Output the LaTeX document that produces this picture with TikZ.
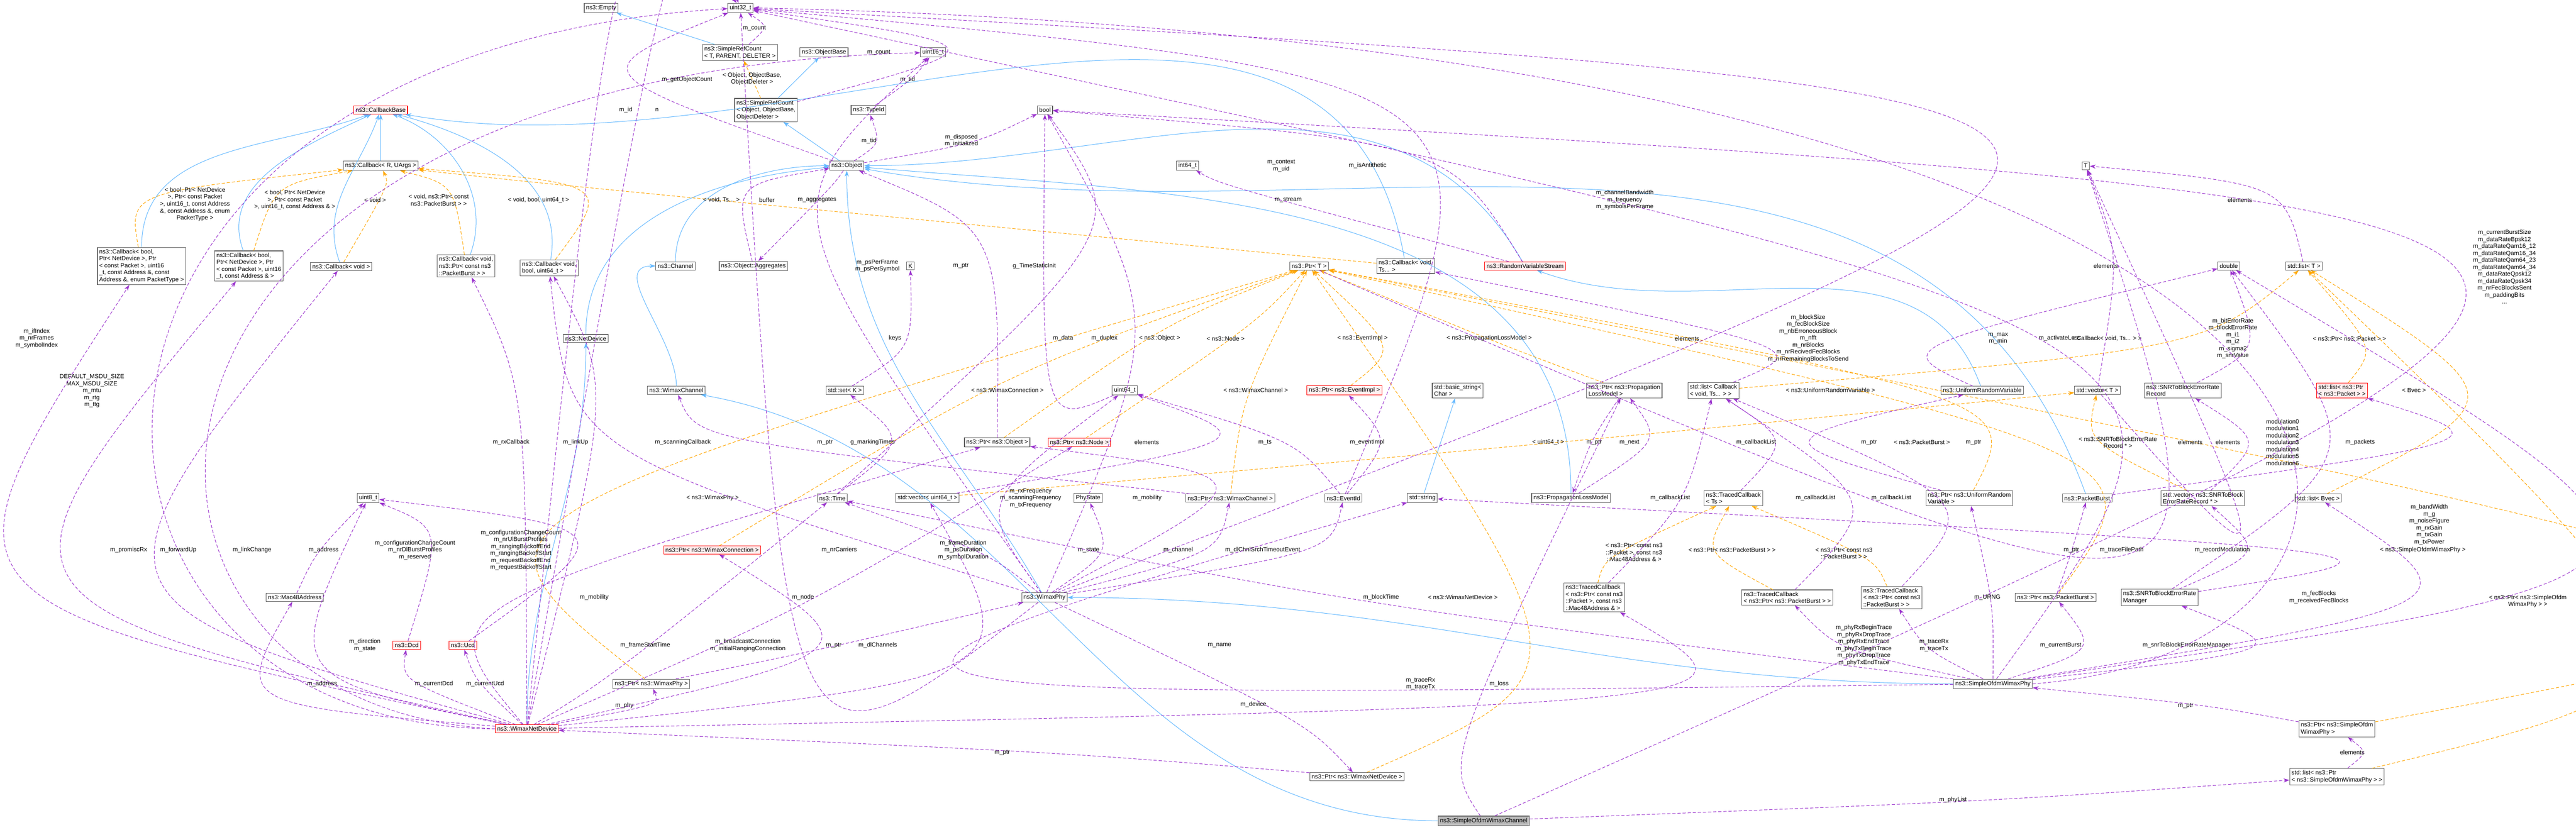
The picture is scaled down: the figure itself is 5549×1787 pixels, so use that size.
\documentclass[tikz,border=0pt]{standalone}
\usepackage{fontspec}
\setmainfont{Liberation Sans}
\usetikzlibrary{arrows.meta,calc}
\definecolor{mcol}{HTML}{9A32CD}
\definecolor{icol}{HTML}{63B8FF}
\definecolor{tcol}{HTML}{FFA500}
\newcommand\ME[5]{\draw[#1] (#2) .. controls ($2*(#4)-0.5*(#2)-0.5*(#3)$) .. (#3); \node[lbl] at (#4) {#5};}
\newcommand\SE[3]{\draw[#1] (#2) -- (#3);}
\begin{document}
\begin{tikzpicture}[x=0.25pt,y=-0.25pt,
 box/.style={draw=gray!75!black,fill=white,line width=0.3pt,inner sep=1pt,font=\fontsize{3.25}{3.75}\selectfont,align=left},
 rbox/.style={box,draw=red,fill=red!6},
 gbox/.style={box,fill=gray!55},
 lbl/.style={font=\fontsize{3.25}{3.75}\selectfont,align=center,inner sep=0.25pt},
 mem/.style={draw=mcol,dash pattern=on 1.75pt off 1pt,line width=0.28pt,-{Stealth[length=3.2pt,width=2.2pt]}},
 inh/.style={draw=icol,line width=0.28pt,-{Stealth[length=3.2pt,width=2.2pt]}},
 tpl/.style={draw=tcol,dash pattern=on 1.75pt off 1pt,line width=0.28pt,-{Stealth[length=3.2pt,width=2.2pt]}}]
\useasboundingbox (0,0) rectangle (5549,1787);
% nodes
\node[box] (empty) at (1295,17) {ns3::Empty};
\node[box] (u32) at (1595,17) {uint32\_t};
\node[box] (srcT) at (1594,113) {ns3::SimpleRefCount\\< T, PARENT, DELETER >};
\node[box] (objbase) at (1775,113) {ns3::ObjectBase};
\node[box] (u16) at (2010,113) {uint16\_t};
\node[box] (srcO) at (1650,237) {ns3::SimpleRefCount\\< Object, ObjectBase,\\ObjectDeleter >};
\node[box] (typeid) at (1871,237) {ns3::TypeId};
\node[box] (bool) at (2251,237) {bool};
\node[rbox] (cbbase) at (820,237) {ns3::CallbackBase};
\node[box] (cbR) at (820,357) {ns3::Callback< R, UArgs >};
\node[box] (object) at (1824,357) {ns3::Object};
\node[box] (i64) at (2558,357) {int64\_t};
\node[box] (T) at (4493,357) {T};
\node[box] (cb1) at (305,573) {ns3::Callback< bool,\\ Ptr< NetDevice >, Ptr\\< const Packet >, uint16\\\_t, const Address \&, const\\ Address \&, enum PacketType >};
\node[box] (cb2) at (536,573) {ns3::Callback< bool,\\ Ptr< NetDevice >, Ptr\\< const Packet >, uint16\\\_t, const Address \& >};
\node[box] (cb3) at (735,574) {ns3::Callback< void >};
\node[box] (cb4) at (1004,573) {ns3::Callback< void,\\ ns3::Ptr< const ns3\\::PacketBurst > >};
\node[box] (cb5) at (1183,577) {ns3::Callback< void,\\ bool, uint64\_t >};
\node[box] (channel) at (1455,573) {ns3::Channel};
\node[box] (aggr) at (1623,573) {ns3::Object::Aggregates};
\node[box] (K) at (1961,573) {K};
\node[box] (ptrT) at (2820,573) {ns3::Ptr< T >};
\node[box] (cbts) at (3028,573) {ns3::Callback< void,\\ Ts... >};
\node[rbox] (rvs) at (3285,573) {ns3::RandomVariableStream};
\node[box] (double) at (4801,573) {double};
\node[box] (listT) at (4963,573) {std::list< T >};
\node[box] (netdev) at (1262,729) {ns3::NetDevice};
\node[box] (wchan) at (1457,841) {ns3::WimaxChannel};
\node[box] (setK) at (1820,841) {std::set< K >};
\node[box] (u64) at (2423,841) {uint64\_t};
\node[rbox] (ptrEv) at (2896,841) {ns3::Ptr< ns3::EventImpl >};
\node[box] (bstr) at (3140,841) {std::basic\_string<\\ Char >};
\node[box] (ptrPLM) at (3499,841) {ns3::Ptr< ns3::Propagation\\ LossModel >};
\node[box] (listCb) at (3691,841) {std::list< Callback\\< void, Ts... > >};
\node[box] (urv) at (4270,841) {ns3::UniformRandomVariable};
\node[box] (vecT) at (4518,841) {std::vector< T >};
\node[box] (snrrec) at (4702,841) {ns3::SNRToBlockErrorRate\\Record};
\node[rbox] (listPkt) at (5045,841) {std::list< ns3::Ptr\\< ns3::Packet > >};
\node[box] (ptrObj) at (2148,953) {ns3::Ptr< ns3::Object >};
\node[rbox] (ptrNode) at (2325,953) {ns3::Ptr< ns3::Node >};
\node[box] (u8) at (793,1073) {uint8\_t};
\node[box] (time) at (1793,1073) {ns3::Time};
\node[box] (vecU64) at (1998,1073) {std::vector< uint64\_t >};
\node[box] (phystate) at (2344,1073) {PhyState};
\node[box] (ptrWCh) at (2650,1073) {ns3::Ptr< ns3::WimaxChannel >};
\node[box] (evid) at (2894,1073) {ns3::EventId};
\node[box] (str) at (3064,1073) {std::string};
\node[box] (plm) at (3384,1073) {ns3::PropagationLossModel};
\node[box] (tcTs) at (3734,1073) {ns3::TracedCallback\\< Ts >};
\node[box] (ptrURV) at (4242,1073) {ns3::Ptr< ns3::UniformRandom\\Variable >};
\node[box] (pburst) at (4496,1073) {ns3::PacketBurst};
\node[box] (vecSnr) at (4745,1073) {std::vector< ns3::SNRToBlock\\ErrorRateRecord * >};
\node[box] (listBvec) at (4994,1073) {std::list< Bvec >};
\node[rbox] (ptrWConn) at (1534,1185) {ns3::Ptr< ns3::WimaxConnection >};
\node[box] (mac) at (635,1287) {ns3::Mac48Address};
\node[box] (wphy) at (2250,1287) {ns3::WimaxPhy};
\node[box] (tcMac) at (3434,1287) {ns3::TracedCallback\\< ns3::Ptr< const ns3\\::Packet >, const ns3\\::Mac48Address \& >};
\node[box] (tcPB) at (3850,1287) {ns3::TracedCallback\\< ns3::Ptr< ns3::PacketBurst > >};
\node[box] (tcCPB) at (4075,1287) {ns3::TracedCallback\\< ns3::Ptr< const ns3\\::PacketBurst > >};
\node[box] (ptrPB) at (4428,1287) {ns3::Ptr< ns3::PacketBurst >};
\node[box] (snrman) at (4652,1287) {ns3::SNRToBlockErrorRate\\Manager};
\node[rbox] (dcd) at (876,1390) {ns3::Dcd};
\node[rbox] (ucd) at (997,1390) {ns3::Ucd};
\node[box] (ptrWPhy) at (1403,1473) {ns3::Ptr< ns3::WimaxPhy >};
\node[box] (sowp) at (4293,1473) {ns3::SimpleOfdmWimaxPhy};
\node[rbox] (wnd) at (1135,1570) {ns3::WimaxNetDevice};
\node[box] (ptrSOWP) at (5034,1570) {ns3::Ptr< ns3::SimpleOfdm\\WimaxPhy >};
\node[box] (ptrWND) at (2923,1673) {ns3::Ptr< ns3::WimaxNetDevice >};
\node[box] (listSOWP) at (5034,1673) {std::list< ns3::Ptr\\< ns3::SimpleOfdmWimaxPhy > >};
\node[gbox] (sowc) at (3196,1768) {ns3::SimpleOfdmWimaxChannel};
% inheritance
\SE{inh}{srcT}{empty}
\SE{inh}{srcO}{objbase}
\SE{inh}{object}{srcO}
\SE{inh}{cbR}{cbbase}
\draw[inh] (cb1) to[out=90,in=200] (cbbase);
\draw[inh] (cb2) to[out=110,in=205] (cbbase);
\draw[inh] (cb3) to[out=110,in=250] (cbbase);
\draw[inh] (cb4) to[out=70,in=-20] (cbbase);
\draw[inh] (cb5) to[out=80,in=-15] (cbbase);
\draw[inh] (cbts) to[out=100,in=-10] (cbbase);
\draw[inh] (channel) to[out=90,in=180] (object);
\draw[inh] (netdev) to[out=90,in=185] (object);
\draw[inh] (wchan) to[out=90,in=180] (channel);
\draw[inh] (wnd) to[out=90,in=270] (netdev);
\draw[inh] (wphy) to[out=120,in=270] (object);
\draw[inh] (plm) to[out=90,in=-5] (object);
\draw[inh] (rvs) to[out=120,in=0] (object);
\draw[inh] (pburst) to[out=110,in=-10] (object);
\draw[inh] (urv) to[out=110,in=-20] (rvs);
\draw[inh] (sowc) to[out=180,in=-10] (wchan);
\draw[inh] (sowp) to[out=180,in=0] (wphy);
\SE{inh}{str}{bstr}
% templates
\ME{tpl}{srcO}{srcT}{1620,170}{< Object, ObjectBase,\\ObjectDeleter >}
\ME{tpl}{cb1}{cbR}{420,440}{< bool, Ptr< NetDevice\\>, Ptr< const Packet\\>, uint16\_t, const Address\\\&, const Address \&, enum\\PacketType >}
\ME{tpl}{cb2}{cbR}{635,431}{< bool, Ptr< NetDevice\\>, Ptr< const Packet\\>, uint16\_t, const Address \& >}
\ME{tpl}{cb3}{cbR}{808,431}{< void >}
\ME{tpl}{cb4}{cbR}{945,431}{< void, ns3::Ptr< const\\ns3::PacketBurst > >}
\ME{tpl}{cb5}{cbR}{1160,431}{< void, bool, uint64\_t >}
\ME{tpl}{cbts}{cbR}{1554,431}{< void, Ts... >}
\ME{tpl}{ptrObj}{ptrT}{2498,729}{< ns3::Object >}
\ME{tpl}{ptrNode}{ptrT}{2640,729}{< ns3::Node >}
\ME{tpl}{ptrWConn}{ptrT}{2170,841}{< ns3::WimaxConnection >}
\ME{tpl}{ptrWPhy}{ptrT}{1535,1073}{< ns3::WimaxPhy >}
\ME{tpl}{ptrWCh}{ptrT}{2705,841}{< ns3::WimaxChannel >}
\ME{tpl}{ptrEv}{ptrT}{2935,729}{< ns3::EventImpl >}
\ME{tpl}{ptrPLM}{ptrT}{3208,729}{< ns3::PropagationLossModel >}
\ME{tpl}{ptrURV}{ptrT}{3943,841}{< ns3::UniformRandomVariable >}
\ME{tpl}{ptrPB}{ptrT}{4140,953}{< ns3::PacketBurst >}
\ME{tpl}{ptrSOWP}{ptrT}{5219,1185}{< ns3::SimpleOfdmWimaxPhy >}
\ME{tpl}{ptrWND}{ptrT}{3151,1287}{< ns3::WimaxNetDevice >}
\ME{tpl}{vecU64}{vecT}{3335,953}{< uint64\_t >}
\ME{tpl}{vecSnr}{vecT}{4562,953}{< ns3::SNRToBlockErrorRate\\Record * >}
\ME{tpl}{listCb}{listT}{4538,729}{< Callback< void, Ts... > >}
\ME{tpl}{listPkt}{listT}{5061,729}{< ns3::Ptr< ns3::Packet > >}
\ME{tpl}{listBvec}{listT}{5200,841}{< Bvec >}
\ME{tpl}{listSOWP}{listT}{5445,1295}{< ns3::Ptr< ns3::SimpleOfdm\\WimaxPhy > >}
\ME{tpl}{tcMac}{tcTs}{3520,1190}{< ns3::Ptr< const ns3\\::Packet >, const ns3\\::Mac48Address \& >}
\ME{tpl}{tcPB}{tcTs}{3731,1185}{< ns3::Ptr< ns3::PacketBurst > >}
\ME{tpl}{tcCPB}{tcTs}{3972,1192}{< ns3::Ptr< const ns3\\::PacketBurst > >}
% members
\draw[mem] (wnd.west) .. controls (20,1560) and (0,110) .. (u32);
\node[lbl] at (79,729) {m\_ifIndex\\m\_nrFrames\\m\_symbolIndex};
\draw[mem] (wnd.west) .. controls (120,1520) and (120,160) .. (u16);
\node[lbl] at (198,842) {DEFAULT\_MSDU\_SIZE\\MAX\_MSDU\_SIZE\\m\_mtu\\m\_rtg\\m\_ttg};
\ME{mem}{wnd}{cb1}{277,1185}{m\_promiscRx}
\ME{mem}{wnd}{cb2}{384,1185}{m\_forwardUp}
\ME{mem}{wnd}{cb3}{543,1185}{m\_linkChange}
\ME{mem}{wnd}{mac}{694,1473}{m\_address}
\ME{mem}{mac}{u8}{697,1185}{m\_address}
\ME{mem}{wnd}{u8}{786,1390}{m\_direction\\m\_state}
\ME{mem}{dcd}{u8}{894,1185}{m\_configurationChangeCount\\m\_nrDlBurstProfiles\\m\_reserved}
\ME{mem}{ucd}{u8}{1122,1185}{m\_configurationChangeCount\\m\_nrUlBurstProfiles\\m\_rangingBackoffEnd\\m\_rangingBackoffStart\\m\_requestBackoffEnd\\m\_requestBackoffStart}
\ME{mem}{wnd}{dcd}{935,1473}{m\_currentDcd}
\ME{mem}{wnd}{ucd}{1045,1473}{m\_currentUcd}
\ME{mem}{wnd}{cb4}{1101,953}{m\_rxCallback}
\ME{mem}{wnd}{cb5}{1240,953}{m\_linkUp}
\ME{mem}{wnd}{ptrObj}{1280,1287}{m\_mobility}
\ME{mem}{wnd}{ptrWPhy}{1345,1520}{m\_phy}
\ME{mem}{ptrWPhy}{wphy}{1796,1390}{m\_ptr}
\ME{mem}{wnd}{vecU64}{1891,1390}{m\_dlChannels}
\ME{mem}{wnd}{ptrNode}{1730,1287}{m\_node}
\ME{mem}{wnd}{ptrWConn}{1611,1390}{m\_broadcastConnection\\m\_initialRangingConnection}
\ME{mem}{wnd}{time}{1390,1390}{m\_frameStartTime}
\ME{mem}{wphy}{cb5}{1471,953}{m\_scanningCallback}
\ME{mem}{wphy}{u16}{1890,573}{m\_psPerFrame\\m\_psPerSymbol}
\ME{mem}{wphy}{u64}{2220,1073}{m\_rxFrequency\\m\_scanningFrequency\\m\_txFrequency}
\ME{mem}{wphy}{ptrObj}{2471,1073}{m\_mobility}
\ME{mem}{wphy}{u32}{1808,1185}{m\_nrCarriers}
\ME{mem}{wphy}{time}{2075,1185}{m\_frameDuration\\m\_psDuration\\m\_symbolDuration}
\ME{mem}{wphy}{phystate}{2345,1185}{m\_state}
\ME{mem}{wphy}{ptrWCh}{2538,1185}{m\_channel}
\ME{mem}{wphy}{evid}{2720,1185}{m\_dlChnlSrchTimeoutEvent}
\ME{mem}{wphy}{ptrWND}{2700,1518}{m\_device}
\ME{mem}{ptrWND}{wnd}{2159,1621}{m\_ptr}
\ME{mem}{sowp}{str}{2627,1390}{m\_name}
\ME{mem}{wphy}{u32}{3500,431}{m\_channelBandwidth\\m\_frequency\\m\_symbolsPerFrame}
\ME{mem}{time}{setK}{1880,953}{g\_markingTimes}
\ME{mem}{ptrWCh}{wchan}{1777,953}{m\_ptr}
\ME{mem}{time}{bool}{2228,573}{g\_TimeStaticInit}
\ME{mem}{ptrObj}{object}{2070,573}{m\_ptr}
\ME{mem}{setK}{K}{1928,729}{keys}
\ME{mem}{vecU64}{u64}{2470,953}{elements}
\ME{mem}{evid}{u64}{2725,953}{m\_ts}
\ME{mem}{evid}{u32}{2760,357}{m\_context\\m\_uid}
\ME{mem}{evid}{ptrEv}{2945,953}{m\_eventImpl}
\ME{mem}{rvs}{bool}{2946,357}{m\_isAntithetic}
\ME{mem}{rvs}{i64}{2775,431}{m\_stream}
\ME{mem}{object}{u32}{1480,171}{m\_getObjectCount}
\ME{mem}{srcT}{u32}{1625,61}{m\_count}
\ME{mem}{srcO}{u32}{1893,113}{m\_count}
\ME{mem}{typeid}{u16}{1955,171}{m\_tid}
\ME{mem}{object}{typeid}{1872,303}{m\_tid}
\ME{mem}{object}{bool}{2071,303}{m\_disposed\\m\_initialized}
\ME{mem}{object}{aggr}{1760,431}{m\_aggregates}
\ME{mem}{aggr}{object}{1652,431}{buffer}
\ME{mem}{wnd}{u32}{1348,237}{m\_id}
\ME{mem}{wnd}{u32}{1415,237}{n}
\ME{mem}{u64}{bool}{2290,729}{m\_data}
\ME{mem}{wphy}{bool}{2379,729}{m\_duplex}
\ME{mem}{sowc}{ptrPLM}{3229,1473}{m\_loss}
\ME{mem}{ptrPLM}{plm}{3434,953}{m\_ptr}
\ME{mem}{plm}{ptrPLM}{3510,953}{m\_next}
\ME{mem}{tcTs}{listCb}{3783,953}{m\_callbackList}
\ME{mem}{tcMac}{listCb}{3598,1073}{m\_callbackList}
\ME{mem}{tcPB}{listCb}{3911,1073}{m\_callbackList}
\ME{mem}{tcCPB}{listCb}{4074,1073}{m\_callbackList}
\ME{mem}{listCb}{cbts}{3634,729}{elements}
\ME{mem}{ptrURV}{urv}{4026,953}{m\_ptr}
\ME{mem}{urv}{double}{4304,729}{m\_max\\m\_min}
\ME{mem}{sowc}{bool}{4437,729}{m\_activateLoss}
\ME{mem}{snrrec}{double}{4810,729}{m\_bitErrorRate\\m\_blockErrorRate\\m\_i1\\m\_i2\\m\_sigma2\\m\_snrValue}
\ME{mem}{vecSnr}{snrrec}{4799,953}{elements}
\ME{mem}{vecT}{T}{4718,953}{elements}
\ME{mem}{snrman}{vecSnr}{4787,1185}{m\_recordModulation}
\ME{mem}{snrman}{double}{4917,953}{modulation0\\modulation1\\modulation2\\modulation3\\modulation4\\modulation5\\modulation6}
\ME{mem}{pburst}{listPkt}{5084,953}{m\_packets}
\ME{mem}{ptrPB}{pburst}{4462,1185}{m\_ptr}
\ME{mem}{snrman}{str}{4570,1185}{m\_traceFilePath}
\ME{mem}{sowp}{double}{5233,1130}{m\_bandWidth\\m\_g\\m\_noiseFigure\\m\_rxGain\\m\_txGain\\m\_txPower}
\ME{mem}{sowp}{listBvec}{4995,1287}{m\_fecBlocks\\m\_receivedFecBlocks}
\ME{mem}{sowp}{ptrURV}{4281,1287}{m\_URNG}
\ME{mem}{sowp}{ptrPB}{4439,1390}{m\_currentBurst}
\ME{mem}{sowp}{snrman}{4710,1390}{m\_snrToBlockErrorRateManager}
\ME{mem}{ptrSOWP}{sowp}{4708,1520}{m\_ptr}
\ME{mem}{listSOWP}{ptrSOWP}{5067,1621}{elements}
\ME{mem}{sowc}{listSOWP}{4207,1723}{m\_phyList}
\ME{mem}{sowp}{tcPB}{4015,1390}{m\_phyRxBeginTrace\\m\_phyRxDropTrace\\m\_phyRxEndTrace\\m\_phyTxBeginTrace\\m\_phyTxDropTrace\\m\_phyTxEndTrace}
\ME{mem}{sowp}{tcCPB}{4166,1390}{m\_traceRx\\m\_traceTx}
\ME{mem}{wnd}{tcMac}{3060,1473}{m\_traceRx\\m\_traceTx}
\ME{mem}{sowp}{time}{2975,1287}{m\_blockTime}
\ME{mem}{sowp}{u32}{3895,729}{m\_blockSize\\m\_fecBlockSize\\m\_nbErroneousBlock\\m\_nfft\\m\_nrBlocks\\m\_nrRecivedFecBlocks\\m\_nrRemainingBlocksToSend}
\draw[mem] (sowp.east) .. controls (5380,1400) and (5400,100) .. (u32.east);
\node[lbl,fill=white] at (5395,575) {m\_currentBurstSize\\m\_dataRateBpsk12\\m\_dataRateQam16\_12\\m\_dataRateQam16\_34\\m\_dataRateQam64\_23\\m\_dataRateQam64\_34\\m\_dataRateQpsk12\\m\_dataRateQpsk34\\m\_nrFecBlocksSent\\m\_paddingBits\\...};
\ME{mem}{ptrT}{T}{4251,953}{m\_ptr}
\ME{mem}{vecT}{T}{4536,573}{elements}
\ME{mem}{listT}{T}{4825,431}{elements}
\end{tikzpicture}
\end{document}
